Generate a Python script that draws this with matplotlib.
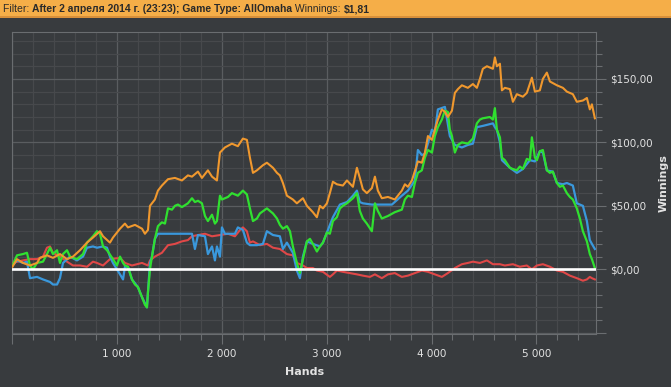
import matplotlib
matplotlib.use("Agg")
import matplotlib.pyplot as plt
from matplotlib.ticker import FuncFormatter, MultipleLocator

# (hands, winnings)
orange_h = [0, 44, 101, 168, 235, 263, 330, 387, 454, 521, 578, 645, 712, 769, 836, 865, 931, 960, 1027, 1074,
            1103, 1170, 1237, 1265, 1294, 1313, 1360, 1389, 1427, 1485, 1551, 1618, 1675, 1714, 1771, 1809, 1866,
            1905, 1952, 1981, 2028, 2095, 2152, 2200, 2238, 2267, 2296, 2334, 2391, 2429, 2487, 2525, 2553, 2582,
            2620, 2677, 2715, 2773, 2811, 2868, 2906, 2935, 2964, 3002, 3030, 3059, 3097, 3154, 3193, 3250, 3288,
            3316, 3345, 3383, 3431, 3460, 3488, 3526, 3584, 3650, 3717, 3746, 3775, 3813, 3870, 3908, 3937, 3966,
            4004, 4032, 4061, 4099, 4128, 4156, 4195, 4223, 4252, 4290, 4347, 4395, 4433, 4462, 4490, 4529, 4586,
            4605, 4624, 4653, 4672, 4700, 4748, 4777, 4815, 4872, 4910, 4958, 4987, 5034, 5063, 5101, 5130, 5197,
            5254, 5292, 5349, 5387, 5445, 5483, 5511, 5531, 5559]
orange_v = [2, 8, 5, 3, 5, 9, 11, 9, 12, 8, 10, 15, 21, 25, 30, 26, 21, 25, 32, 36,
            33, 35, 32, 28, 31, 50, 55, 62, 66, 71, 72, 70, 74, 73, 77, 72, 78,
            73, 70, 92, 96, 99, 97, 103, 102, 88, 76, 78, 82, 84, 80, 76, 74, 68,
            58, 55, 52, 56, 50, 45, 41, 50, 48, 52, 60, 69, 67, 66, 70, 65, 80,
            72, 63, 60, 64, 73, 62, 56, 57, 55, 62, 67, 65, 70, 85, 84, 92, 105,
            102, 110, 118, 126, 124, 120, 125, 139, 142, 145, 143, 146, 143, 150, 158, 160, 158,
            167, 160, 162, 141, 143, 142, 132, 138, 136, 139, 151, 140, 141, 150, 155, 148, 145,
            143, 140, 138, 132, 133, 135, 126, 130, 119]

green_h = [0, 44, 101, 139, 168, 197, 235, 292, 330, 359, 387, 426, 454, 483, 521, 550, 616, 674, 712, 769,
           807, 836, 865, 903, 960, 998, 1027, 1056, 1074, 1103, 1141, 1170, 1198, 1237, 1265, 1284, 1294, 1313,
           1332, 1360, 1389, 1427, 1456, 1485, 1523, 1551, 1580, 1618, 1675, 1714, 1742, 1771, 1809, 1838, 1866,
           1905, 1933, 1952, 1981, 2000, 2057, 2095, 2152, 2200, 2238, 2267, 2296, 2334, 2362, 2429, 2458, 2487,
           2525, 2553, 2582, 2620, 2649, 2677, 2715, 2744, 2773, 2811, 2840, 2868, 2906, 2935, 2964, 3002, 3030,
           3059, 3097, 3126, 3154, 3193, 3250, 3288, 3316, 3345, 3383, 3431, 3460, 3488, 3526, 3584, 3650, 3717,
           3746, 3775, 3813, 3841, 3870, 3908, 3937, 3966, 4004, 4032, 4061, 4099, 4128, 4156, 4175, 4195, 4223,
           4252, 4290, 4347, 4395, 4433, 4462, 4490, 4557, 4586, 4605, 4624, 4653, 4672, 4700, 4748, 4777, 4815,
           4843, 4872, 4910, 4939, 4958, 4987, 5006, 5034, 5063, 5101, 5130, 5158, 5197, 5225, 5254, 5292, 5321,
           5349, 5387, 5416, 5445, 5483, 5511, 5531, 5559]
green_v = [3, 11, 12, 13, 3, 0, 5, 6, 12, 17, 12, 15, 5, 12, 15, 10, 8, 12, 21, 26,
           30, 28, 18, 15, 8, 3, 10, 5, 3, 2, -8, -12, -14, -22, -28, -30, -18, 0,
           10, 24, 34, 37, 36, 48, 47, 50, 51, 49, 52, 56, 53, 54, 52, 42, 38,
           43, 36, 38, 58, 55, 57, 60, 58, 62, 59, 48, 38, 40, 44, 48, 46, 44,
           40, 35, 32, 34, 30, 18, 5, -3, 8, 22, 24, 20, 14, 18, 21, 29, 28,
           38, 41, 48, 50, 52, 56, 60, 46, 40, 36, 30, 52, 46, 40, 42, 45, 47,
           55, 58, 57, 68, 76, 78, 88, 94, 92, 105, 112, 118, 125, 124, 110, 105, 92,
           98, 100, 99, 103, 115, 118, 119, 120, 118, 127, 110, 104, 88, 86, 80, 79, 78,
           81, 79, 87, 86, 104, 88, 86, 93, 94, 78, 76, 77, 68, 65, 66, 60, 57,
           55, 48, 40, 30, 22, 12, 8, 1]

blue_h = [0, 44, 101, 139, 168, 235, 292, 359, 387, 426, 454, 483, 550, 616, 674, 712, 769, 807, 865, 903,
          931, 960, 1027, 1056, 1074, 1103, 1141, 1198, 1237, 1284, 1294, 1313, 1332, 1360, 1389, 1485, 1618,
          1714, 1742, 1771, 1838, 1866, 1905, 1933, 1952, 1981, 2000, 2028, 2124, 2152, 2200, 2238, 2267, 2334,
          2391, 2429, 2487, 2553, 2582, 2620, 2677, 2715, 2744, 2773, 2811, 2868, 2935, 2964, 3002, 3059, 3126,
          3193, 3250, 3288, 3316, 3345, 3431, 3526, 3622, 3717, 3775, 3841, 3870, 3908, 3937, 4004, 4032, 4061,
          4128, 4175, 4223, 4290, 4347, 4395, 4433, 4490, 4586, 4605, 4624, 4653, 4672, 4748, 4815, 4872, 4939,
          4987, 5034, 5063, 5101, 5158, 5197, 5254, 5292, 5349, 5387, 5445, 5483, 5511, 5531, 5559]
blue_v = [3, 7, 5, 6, -7, -6, -8, -10, -12, -12, -7, 5, 10, 7, 10, 17, 18, 17, 18, 17,
          10, 5, -4, -8, 2, 2, -8, -14, -22, -30, -18, 5, 10, 24, 28, 28, 28,
          28, 16, 27, 26, 12, 18, 7, 18, 10, 33, 28, 28, 33, 31, 21, 19, 19,
          20, 30, 27, 26, 16, 21, 13, -1, -7, 10, 22, 20, 18, 21, 29, 41, 51,
          53, 58, 62, 53, 52, 51, 51, 51, 58, 62, 70, 94, 90, 91, 110, 108, 126,
          128, 105, 98, 96, 98, 99, 112, 113, 115, 112, 110, 100, 86, 80, 76, 79, 86,
          85, 93, 92, 78, 77, 68, 67, 68, 66, 52, 50, 38, 23, 20, 16]

red_h = [0, 101, 168, 235, 292, 330, 359, 387, 454, 521, 578, 645, 712, 769, 807, 865, 931, 1027, 1074, 1141,
         1237, 1294, 1313, 1360, 1427, 1485, 1551, 1618, 1675, 1714, 1771, 1838, 1905, 1981, 2057, 2124, 2172,
         2200, 2238, 2267, 2296, 2362, 2429, 2487, 2553, 2620, 2677, 2715, 2773, 2811, 2868, 2906, 2964, 3030,
         3059, 3097, 3154, 3221, 3288, 3345, 3412, 3460, 3526, 3584, 3650, 3717, 3775, 3841, 3908, 3966, 4032,
         4099, 4156, 4223, 4290, 4347, 4395, 4462, 4529, 4586, 4653, 4700, 4777, 4843, 4910, 4958, 5006, 5063,
         5130, 5197, 5254, 5321, 5387, 5445, 5483, 5511, 5531, 5559]
red_v = [5, 7, 8, 8, 10, 17, 18, 13, 10, 6, 3, 3, 2, 6, 5, 3, 8, 9, 5, 3,
         5, 3, 7, 10, 13, 19, 20, 22, 23, 26, 27, 28, 26, 27, 28, 26, 31,
         33, 30, 21, 22, 19, 20, 17, 16, 12, 11, 5, 3, 1, 1, -1, -2, -6,
         -4, -1, -2, -3, -4, -5, -6, -4, -7, -4, -3, -6, -5, -3, -1, -2, -4,
         -6, -3, 1, 4, 5, 6, 5, 7, 4, 4, 3, 4, 2, 3, 0, 3, 4,
         2, -1, -2, -5, -7, -9, -8, -6, -7, -8]

x_max = 5570
y_min, y_max = -51, 187

bg = "#383b3e"
txt = "#e2e2e2"

fig = plt.figure(figsize=(6.71, 3.87), dpi=100, facecolor=bg)
ax = fig.add_axes([12.4 / 671, 53 / 387, (596 - 12.4) / 671, 302 / 387])
ax.set_facecolor(bg)

ax.plot(red_h, red_v, color="#e04848", lw=1.5, zorder=3)
ax.plot(blue_h, blue_v, color="#3a98dc", lw=1.6, zorder=4)
ax.plot(green_h, green_v, color="#30e030", lw=1.6, zorder=5)
ax.plot(orange_h, orange_v, color="#f0982e", lw=1.5, zorder=6)
ax.axhline(0, color="white", lw=1.9, zorder=7)

ax.set_xlim(0, x_max)
ax.set_ylim(y_min, y_max)

ax.xaxis.set_major_locator(MultipleLocator(1000))
ax.xaxis.set_minor_locator(MultipleLocator(200))
ax.yaxis.set_major_locator(MultipleLocator(50))
ax.yaxis.set_minor_locator(MultipleLocator(10))
ax.xaxis.set_major_formatter(FuncFormatter(lambda v, p: f"{int(v):,}".replace(",", " ") if v > 0 else ""))
ax.yaxis.set_major_formatter(FuncFormatter(lambda v, p: f"${v:.2f}".replace(".", ",") if v >= 0 else ""))

ax.yaxis.tick_right()
ax.yaxis.set_label_position("right")
ax.grid(True, which="major", color="#5a5d60", lw=0.9)
ax.grid(True, which="minor", color="#47494c", lw=0.9)
ax.set_axisbelow(True)

ax.tick_params(which="major", colors="#6a6d70", length=7, width=0.8, labelcolor=txt, labelsize=7.5)
ax.tick_params(which="minor", colors="#6a6d70", length=4, width=0.8)
ax.tick_params(axis="y", which="major", pad=3)
for s in ax.spines.values():
    s.set_color("#6a6d70")
    s.set_linewidth(0.8)

ax.set_xlabel("Hands", color=txt, fontsize=8, fontweight="bold", labelpad=6)
ax.set_ylabel("Winnings", color=txt, fontsize=8, fontweight="bold", labelpad=4)

# header bar
fig.patches.append(plt.Rectangle((0, 1 - 17 / 387), 1, 17 / 387, transform=fig.transFigure,
                                 facecolor="#f5ae48", edgecolor="none", zorder=0))
fig.patches.append(plt.Rectangle((0, 1 - 18 / 387), 1, 1.5 / 387, transform=fig.transFigure,
                                 facecolor="#d8903a", edgecolor="none", zorder=0))

parts = [("Filter: ", "normal"), ("After 2 апреля 2014 г. (23:23); Game Type: AllOmaha", "bold"),
         (" Winnings: ", "normal"), ("$1,81", "bold")]
renderer = fig.canvas.get_renderer()
xpos = 3
for s, w in parts:
    t = fig.text(xpos / 671, 1 - 12.5 / 387, s, color="#2a2a2a", fontsize=7.5, fontweight=w,
                 family="Liberation Sans", va="baseline", ha="left")
    xpos += t.get_window_extent(renderer).width

fig.savefig("out.png", dpi=100, facecolor=bg)
